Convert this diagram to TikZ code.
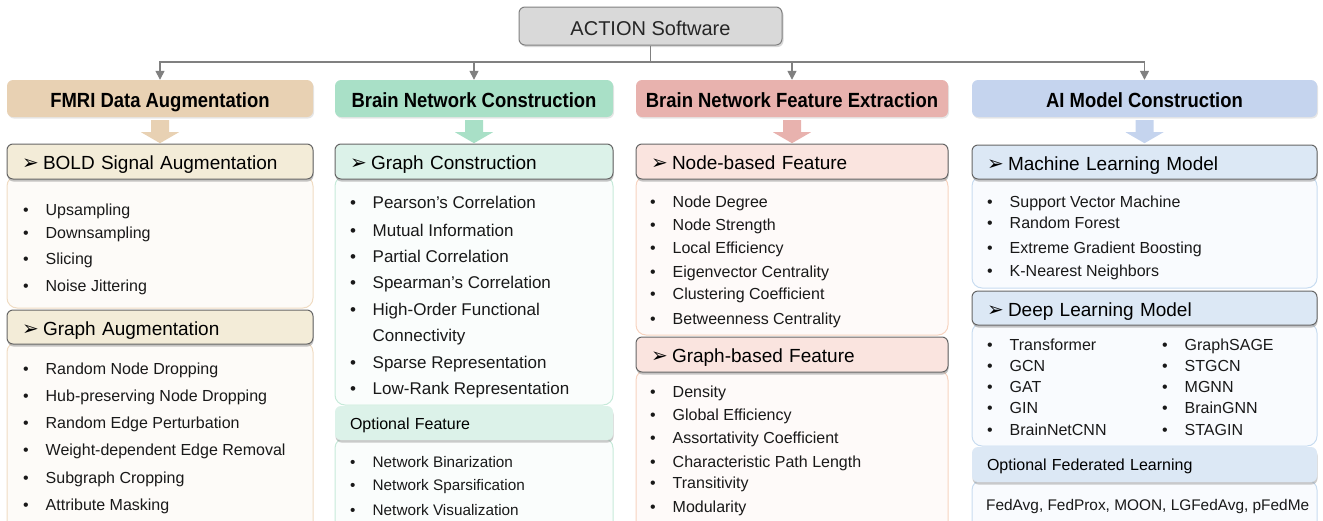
\documentclass[tikz,border=0pt]{standalone}
\usepackage{fontspec}
\setmainfont{Liberation Sans}
\newfontfamily\headfont[FakeStretch=0.9]{Liberation Sans}
\newfontfamily\dingfont{DejaVu Sans}
\usetikzlibrary{arrows.meta,calc,shadows}

\definecolor{edge}{HTML}{808080}
\definecolor{topfill}{HTML}{D9D9D9}
\definecolor{headA}{HTML}{E8D1B3}
\definecolor{headB}{HTML}{A9E0C7}
\definecolor{headC}{HTML}{E8B2AE}
\definecolor{headD}{HTML}{C5D4EE}
\definecolor{subA}{HTML}{F3ECD8}
\definecolor{subB}{HTML}{DCF2E9}
\definecolor{subC}{HTML}{FAE4DF}
\definecolor{subD}{HTML}{DCE8F5}
\definecolor{boxA}{HTML}{FDFBF8}
\definecolor{boxB}{HTML}{FAFDFC}
\definecolor{boxC}{HTML}{FEFAF9}
\definecolor{boxD}{HTML}{F9FBFE}
\definecolor{lineA}{HTML}{F0DCC3}
\definecolor{lineB}{HTML}{C6EAD9}
\definecolor{lineC}{HTML}{F7D3BF}
\definecolor{lineD}{HTML}{C8DCF0}

\newcommand{\itemdot}{\makebox[22.5pt][l]{•}}
\newcommand{\subarrow}{\makebox[21pt][l]{\dingfont\fontsize{20}{20}\selectfont ➢}}

\begin{document}
\begin{tikzpicture}[x=1pt,y=-1pt]
	\tikzstyle{Top} = [rectangle, rounded corners=6, draw=edge, fill=topfill, line width=1, minimum width=263, minimum height=38, text height=18, text depth=0, text=black!85, font=\fontsize{20}{24}\selectfont, drop shadow={opacity=0.3, shadow xshift=1.5pt, shadow yshift=-2pt}]
	\tikzstyle{Head} = [rectangle, rounded corners=6, minimum height=37, text height=18.5, text depth=0, font=\headfont\bfseries\fontsize{20.5}{24}\selectfont, drop shadow={opacity=0.2, shadow xshift=1pt, shadow yshift=-1.5pt}]
	\tikzstyle{Sub} = [rectangle, rounded corners=6, draw=black!60, line width=1, minimum height=35, inner xsep=15, align=left, text height=16, text depth=0, font=\fontsize{19}{22}\selectfont, drop shadow={opacity=0.45, shadow xshift=0.5pt, shadow yshift=-2.5pt}]
	\tikzstyle{Opt} = [rectangle, rounded corners=6, minimum height=34, inner xsep=15, align=left, text height=12.5, text depth=0, font=\fontsize{16}{19}\selectfont, drop shadow={opacity=0.4, shadow xshift=0.5pt, shadow yshift=-2.5pt}]
	\tikzstyle{Box} = [rounded corners=10, line width=1]
	\tikzstyle{Item} = [anchor=base west, inner sep=0, text=black!90, font=\fontsize{16}{19}\selectfont]
	\tikzstyle{Conn} = [draw=edge, line width=1.5]
	\useasboundingbox (0,0) rectangle (1323,520);
	\clip (0,0) rectangle (1323,520);

	% content boxes
	\draw[Box, draw=lineA, fill=boxA] (7,176) rectangle (313,308);
	\draw[Box, draw=lineA, fill=boxA] (7,342) rectangle (313,545);
	\draw[Box, draw=lineB, fill=boxB] (335,176) rectangle (613,405);
	\draw[Box, draw=lineB, fill=boxB] (335,438) rectangle (613,545);
	\draw[Box, draw=lineC, fill=boxC] (636,176) rectangle (948,335);
	\draw[Box, draw=lineC, fill=boxC] (636,370) rectangle (948,545);
	\draw[Box, draw=lineD, fill=boxD] (972,176) rectangle (1317,288);
	\draw[Box, draw=lineD, fill=boxD] (972,323) rectangle (1317,446);
	\draw[Box, draw=lineD, fill=boxD] (972,480) rectangle (1317,545);

	\node (0) at (650.5,26) [Top] {ACTION Software};
	\node (1) at (160,98.5) [Head, fill=headA, minimum width=306] {FMRI Data Augmentation};
	\node (2) at (474,98.5) [Head, fill=headB, minimum width=278] {Brain Network Construction};
	\node (3) at (792,98.5) [Head, fill=headC, minimum width=312] {Brain Network Feature Extraction};
	\node (4) at (1144.5,98.5) [Head, fill=headD, minimum width=345] {AI Model Construction};

	\coordinate (j) at (650.5,62);
	\draw [Conn] (0) -- (j);
	\foreach \n in {1,2,3,4}
		\draw [Conn, -{Triangle[width=9pt,length=9pt]}] (j) -| (\n);

	% wide arrows below the headers
	\foreach \n/\c in {1/headA, 2/headB, 3/headC, 4/headD}
		\fill[\c] ($(\n.south)+(-9,3)$) -- ++(18,0) -- ++(0,12) -- ++(10,0) -- ($(\n.south)+(0,26)$) -- ++(-19,-11) -- ++(10,0) -- cycle;

	\node (1a) at (160,161.5) [Sub, fill=subA, text width=276] {\subarrow BOLD Signal Augmentation};
	\node (1b) at (160,327) [Sub, fill=subA, text width=276, minimum height=34] {\subarrow Graph Augmentation};
	\node (2a) at (474,161.5) [Sub, fill=subB, text width=248] {\subarrow Graph Construction};
	\node (2b) at (474,423) [Opt, fill=subB, text width=248] {Optional Feature};
	\node (3a) at (792,161.5) [Sub, fill=subC, text width=282] {\subarrow Node-based Feature};
	\node (3b) at (792,354.5) [Sub, fill=subC, text width=282] {\subarrow Graph-based Feature};
	\node (4a) at (1144.5,162) [Sub, fill=subD, text width=315, minimum height=34] {\subarrow Machine Learning Model};
	\node (4b) at (1144.5,308) [Sub, fill=subD, text width=315, minimum height=34] {\subarrow Deep Learning Model};
	\node (4c) at (1144.5,464.5) [Opt, fill=subD, text width=315, minimum height=35] {Optional Federated Learning};

	% list items
	\foreach \t/\y [count=\i] in {Upsampling/210, Downsampling/233, Slicing/259, Noise Jittering/286}
		\node (1a-\i) at (23,\y+5.7) [Item] {\itemdot\t};
	\foreach \t/\y [count=\i] in {Random Node Dropping/369, Hub-preserving Node Dropping/396, Random Edge Perturbation/423, Weight-dependent Edge Removal/450, Subgraph Cropping/478, Attribute Masking/505}
		\node (1b-\i) at (23,\y+5.7) [Item] {\itemdot\t};
	\foreach \t/\y [count=\i] in {Pearson’s Correlation/202, Mutual Information/230, Partial Correlation/256, Spearman’s Correlation/282, High-Order Functional/309, Sparse Representation/362, Low-Rank Representation/388}
		\node (2a-\i) at (350,\y+6.1) [Item, font=\fontsize{17}{20}\selectfont] {\itemdot\t};
	\node (2a-x) at (372.5,341.1) [Item, font=\fontsize{17}{20}\selectfont] {Connectivity};
	\foreach \t/\y [count=\i] in {Network Binarization/462, Network Sparsification/485, Network Visualization/510}
		\node (2b-\i) at (350,\y+5.4) [Item, font=\fontsize{15.3}{18}\selectfont] {\itemdot\t};
	\foreach \t/\y [count=\i] in {Node Degree/202, Node Strength/225, Local Efficiency/248, Eigenvector Centrality/272, Clustering Coefficient/294, Betweenness Centrality/319}
		\node (3a-\i) at (650,\y+5.7) [Item] {\itemdot\t};
	\foreach \t/\y [count=\i] in {Density/392, Global Efficiency/415, Assortativity Coefficient/438, Characteristic Path Length/462, Transitivity/483, Modularity/507}
		\node (3b-\i) at (650,\y+5.7) [Item] {\itemdot\t};
	\foreach \t/\y [count=\i] in {Support Vector Machine/202, Random Forest/223, Extreme Gradient Boosting/248, K-Nearest Neighbors/271}
		\node (4a-\i) at (987,\y+5.7) [Item] {\itemdot\t};
	\foreach \t/\y [count=\i] in {Transformer/345, GCN/366, GAT/387, GIN/408, BrainNetCNN/430}
		\node (4b-\i) at (987,\y+5.7) [Item] {\itemdot\t};
	\foreach \t/\y [count=\i] in {GraphSAGE/345, STGCN/366, MGNN/387, BrainGNN/408, STAGIN/430}
		\node (4d-\i) at (1162,\y+5.7) [Item] {\itemdot\t};
	\node (4c-1) at (986,510.5) [Item, font=\fontsize{15.4}{18}\selectfont] {FedAvg, FedProx, MOON, LGFedAvg, pFedMe};
\end{tikzpicture}
\end{document}
